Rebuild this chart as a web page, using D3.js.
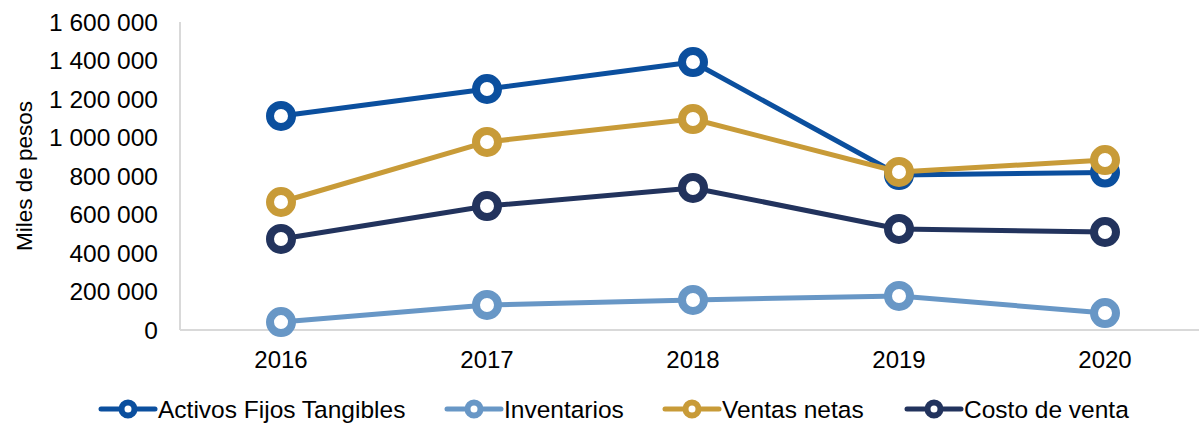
<!DOCTYPE html>
<html>
<head>
<meta charset="utf-8">
<script src="https://cdn.jsdelivr.net/npm/d3@7"></script>
<style>
  body { margin: 0; background: #fff; }
  svg { display: block; font-family: "Liberation Sans", Arial, sans-serif; }
</style>
</head>
<body>
<svg id="chart" width="1199" height="423"></svg>
<script>
// data
const years = ["2016", "2017", "2018", "2019", "2020"];
const activos = [1112000, 1252000, 1392000, 805000, 818000];
const inventarios = [41000, 130000, 156000, 177000, 88000];
const ventas = [665000, 977000, 1096000, 821000, 883000];
const costo = [473000, 644000, 738000, 525000, 509000];
const yTicks = [0, 200000, 400000, 600000, 800000, 1000000, 1200000, 1400000, 1600000];

const series = [
    { name: "Activos Fijos Tangibles", values: activos, color: "#0b4f9e" },
    { name: "Inventarios", values: inventarios, color: "#6897c6" },
    { name: "Ventas netas", values: ventas, color: "#c89b38" },
    { name: "Costo de venta", values: costo, color: "#22335d" }
];

const svg = d3.select("#chart");
const padLeft = 180, padRight = 1208, padTop = 22, padBottom = 330;

const x = d3.scaleBand().domain(years).range([padLeft - 2, padRight]);
const y = d3.scaleLinear().domain([0, 1600000]).range([padBottom, padTop]);

const fmt = v => d3.format(",")(v).replace(/,/g, " ");

// axis lines
svg.append("line")
    .attr("x1", padLeft).attr("x2", padLeft)
    .attr("y1", padTop).attr("y2", padBottom)
    .attr("stroke", "#d9d9d9").attr("stroke-width", 2);
svg.append("line")
    .attr("x1", padLeft).attr("x2", 1199)
    .attr("y1", padBottom).attr("y2", padBottom)
    .attr("stroke", "#d9d9d9").attr("stroke-width", 2);

// y tick labels
svg.append("g").selectAll("text")
    .data(yTicks)
    .enter().append("text")
    .attr("x", 158)
    .attr("y", d => y(d))
    .attr("dy", "0.35em")
    .attr("text-anchor", "end")
    .style("font-size", "24.5px")
    .attr("fill", "#000")
    .text(d => fmt(d));

// x tick labels
svg.append("g").selectAll("text")
    .data(years)
    .enter().append("text")
    .attr("x", d => x(d) + x.bandwidth() / 2)
    .attr("y", 360)
    .attr("dy", "0.35em")
    .attr("text-anchor", "middle")
    .style("font-size", "24px")
    .attr("fill", "#000")
    .text(d => d);

// y title
svg.append("text")
    .attr("transform", "translate(32,176) rotate(-90)")
    .attr("text-anchor", "middle")
    .style("font-size", "22.5px")
    .attr("fill", "#000")
    .text("Miles de pesos");

const line = d3.line()
    .x((d, i) => x(years[i]) + x.bandwidth() / 2)
    .y(d => y(d));

const g = svg.append("g");
series.forEach(function (s) {
    g.append("path")
        .datum(s.values)
        .attr("d", line)
        .attr("fill", "none")
        .attr("stroke", s.color)
        .attr("stroke-width", 5)
        .attr("stroke-linejoin", "round");
    g.selectAll(null)
        .data(s.values)
        .enter().append("circle")
        .attr("cx", (d, i) => x(years[i]) + x.bandwidth() / 2)
        .attr("cy", d => y(d))
        .attr("r", 11)
        .attr("fill", "#fff")
        .attr("stroke", s.color)
        .attr("stroke-width", 8);
});

// legend
const legendX = [101, 447, 665, 907];
const legend = svg.append("g");
series.forEach(function (s, i) {
    const lx = legendX[i], ly = 409;
    legend.append("line")
        .attr("x1", lx).attr("x2", lx + 54)
        .attr("y1", ly).attr("y2", ly)
        .attr("stroke", s.color).attr("stroke-width", 5)
        .attr("stroke-linecap", "round");
    legend.append("circle")
        .attr("cx", lx + 27).attr("cy", ly)
        .attr("r", 6.5)
        .attr("fill", "#fff")
        .attr("stroke", s.color).attr("stroke-width", 6);
    legend.append("text")
        .attr("x", lx + 57).attr("y", ly)
        .attr("dy", "0.35em")
        .style("font-size", "24.5px")
        .attr("fill", "#000")
        .text(s.name);
});
</script>
</body>
</html>
